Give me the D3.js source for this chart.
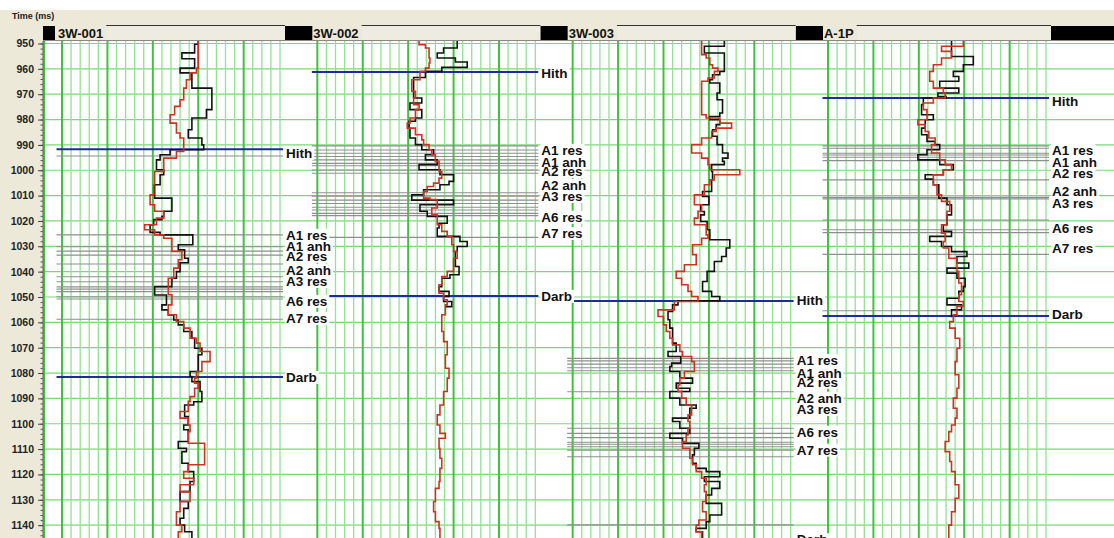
<!DOCTYPE html>
<html lang="en">
<head>
<meta charset="utf-8">
<title>Well correlation - Time (ms)</title>
<script src="https://d3js.org/d3.v7.min.js"></script>
<style>
  body { margin: 0; background: #fff; }
  svg { display: block; font-family: "Liberation Sans", Arial, sans-serif; }
</style>
</head>
<body>
<div id="chart"></div>
<script>
// wells shown as tracks, left to right
const wells = ["3W-001", "3W-002", "3W-003", "A-1P"];
const timeTicks = [950, 960, 970, 980, 990, 1000, 1010, 1020, 1030, 1040, 1050,
                   1060, 1070, 1080, 1090, 1100, 1110, 1120, 1130, 1140];

// log curves: [time ms, value in grid divisions 0-24], value holds down to the next time
const blackW1 = [[949,15.0],[950.3,14.6],[953.7,13.2],[956,14.6],[959.7,13.0],[961.6,14.3],[967.6,16.5],[976.1,15.9],[979.4,14.3],[984,13.9],[987.3,15.4],[990,15.6],[991.9,11.9],[993.9,10.8],[995.9,10.4],[999.8,11.2],[1001.8,10.8],[1005.7,10.2],[1011,12.1],[1016.2,11.2],[1018.2,11.0],[1019.5,10.1],[1021.5,9.7],[1024.5,10.8],[1025.5,14.4],[1029.4,12.8],[1031.4,13.5],[1034.7,13.9],[1036.5,13.0],[1040,12.6],[1042.6,12.1],[1045.9,10.2],[1049.2,11.5],[1053.1,11.0],[1055.1,11.7],[1057.1,12.3],[1059.1,12.8],[1061,13.4],[1063.6,14.3],[1066.3,14.6],[1070.2,15.4],[1072.8,15.0],[1079.4,14.1],[1081.4,14.3],[1083.4,15.2],[1087.3,15.4],[1091.3,14.5],[1092.6,13.5],[1097.2,13.9],[1100.5,13.4],[1102.4,13.9],[1107,12.8],[1109.7,13.7],[1111,13.2],[1115.6,13.9],[1118.9,14.5],[1122.8,14.1],[1126.8,13.0],[1130.7,13.9],[1133.4,13.4],[1137.3,13.0],[1140,13.5],[1142.6,14.3],[1146,14.3]];
const redW1 = [[949,15.0],[959.7,14.8],[961.6,14.1],[964.3,13.7],[967.6,13.4],[972.2,13.0],[974.8,12.4],[978.1,11.9],[981.4,12.6],[985.3,13.0],[987.3,13.4],[992.6,12.6],[995.2,11.2],[1000.5,10.2],[1005.7,10.1],[1009.7,9.7],[1013.6,10.2],[1016.2,11.2],[1018.9,10.4],[1021.5,9.1],[1023.5,10.2],[1025.5,11.2],[1026.8,12.1],[1032,13.2],[1035.3,12.8],[1038.6,12.3],[1042.6,11.7],[1049.1,12.1],[1053.1,11.7],[1057,12.6],[1059.7,13.4],[1062.3,14.1],[1066.3,14.8],[1068.2,15.2],[1071.5,16.3],[1075.5,15.4],[1079.4,14.8],[1082,14.6],[1084,15.0],[1086,14.6],[1089.3,14.1],[1091.2,13.9],[1095.2,13.0],[1097.8,13.9],[1100.5,14.1],[1103.1,13.9],[1107.7,15.7],[1116.2,13.9],[1118.9,13.4],[1121.5,14.5],[1124.1,13.0],[1126.8,14.1],[1130.7,13.0],[1134.7,12.6],[1140,13.2],[1142.6,12.8],[1146,12.8]];

const blackW2 = [[949,15.4],[951.8,13.9],[953.75,13.2],[955.7,15.2],[957.3,16.5],[959.4,13.7],[961,11.9],[963.4,10.6],[971.5,11.5],[973.5,10.2],[976.1,11.5],[979.4,10.8],[980.7,10.1],[983.4,10.2],[987.3,10.8],[989.9,11.5],[991.9,12.8],[993.9,11.9],[995.9,13.2],[997.8,11.2],[999.8,13.5],[1001.8,15.0],[1004.4,14.5],[1005.7,13.5],[1007.7,11.7],[1009.7,10.4],[1011.8,15.0],[1013.6,11.3],[1016.2,12.1],[1018.2,14.3],[1020.9,13.4],[1022.8,13.2],[1026.1,15.7],[1028.1,16.5],[1030.1,15.4],[1032.1,15.2],[1038,15.6],[1041.2,14.6],[1042.6,13.7],[1045.9,13.4],[1047.8,14.5],[1049.8,13.9],[1051.8,14.8],[1053.8,14.1]];
const redW2 = [[949,11.2],[950.5,11.9],[951.8,12.3],[955.7,12.4],[957.7,12.3],[959.7,11.9],[961,11.3],[964.3,10.4],[968.9,10.8],[971.5,10.6],[974.1,11.2],[976.1,10.8],[979.4,10.2],[981.4,9.9],[983.4,10.8],[986,11.5],[988,11.7],[989.9,12.3],[991.9,12.6],[993.9,13.0],[996.5,13.4],[1000.5,13.7],[1003.1,13.4],[1005.1,12.8],[1006.4,12.1],[1008.4,11.7],[1011,12.4],[1011.6,13.2],[1014.9,12.6],[1017.6,13.2],[1021.5,13.7],[1024.1,14.3],[1026.1,14.8],[1029.4,15.0],[1032,15.4],[1034.7,15.0],[1039.9,14.3],[1041.9,13.7],[1045.2,13.4],[1048.5,13.9],[1051.1,14.3],[1053.1,14.1],[1057,13.7],[1063.6,13.9],[1067.6,14.3],[1072.8,14.1],[1078.1,14.5],[1082,14.3],[1087.3,13.9],[1092.6,13.5],[1096.5,13.2],[1100.5,13.5],[1103.8,14.1],[1105.7,13.4],[1109.7,13.5],[1113.6,13.7],[1117.6,13.5],[1122.8,13.4],[1125.5,13.0],[1130.7,12.8],[1134.7,13.0],[1138.6,13.4],[1141.3,13.5],[1146,13.5]];

const blackW3 = [[949,16.7],[951.1,14.5],[953.75,16.7],[961,16.2],[962.3,15.4],[964.3,15.1],[965.6,16.2],[969.5,15.9],[972.2,16.5],[977.4,16.2],[978.8,15.1],[980.1,16.2],[982,15.8],[984,15.4],[986.6,15.9],[989.9,16.5],[993.2,17.1],[995.2,16.5],[996.5,16.7],[997.8,15.3],[1000.5,15.4],[1003.8,15.3],[1008.4,14.3],[1010.3,15.0],[1013.6,14.1],[1016.3,14.5],[1017.6,14.1],[1020.2,14.8],[1023.5,15.1],[1027.4,17.3],[1030.7,16.9],[1034,16.4],[1036,15.6],[1039.9,14.8],[1043.9,14.3],[1047.8,15.3],[1049.8,16.2],[1051.5,11.6],[1053.1,11.0],[1055.7,10.5],[1059,10.7],[1062.3,11.0],[1068.2,11.4],[1071.5,10.5],[1073.5,11.9],[1076.1,10.9],[1077.4,10.7],[1079.4,11.8],[1082,13.2],[1084,11.4],[1086,12.9],[1087.3,10.7],[1089.9,11.8],[1092.6,13.6],[1093.9,12.9],[1097.8,11.0],[1099.1,11.8],[1101.8,12.9],[1103.8,10.7],[1105.7,12.1],[1107.7,13.9],[1109.7,13.4],[1112.3,13.2],[1115.6,13.6],[1117.6,14.7],[1118.9,16.2],[1120.9,14.5],[1122.8,16.2],[1125.5,15.3],[1128.1,14.7],[1131.4,16.4],[1136,15.1],[1138.6,14.7],[1141.3,13.6],[1142.6,14.3],[1146,14.3]];
const redW3 = [[949,14.2],[954.4,14.7],[955.7,15.1],[958.4,15.4],[959.7,16.0],[961,15.6],[963.6,14.9],[964.9,14.2],[978.1,14.7],[979.4,16.2],[981.4,17.5],[983.4,15.8],[984.7,15.3],[987.3,14.2],[989.9,13.1],[993.2,14.2],[995.2,14.9],[997.8,15.1],[999.8,18.4],[1001.8,15.6],[1003.8,15.1],[1005.7,14.5],[1009.7,13.4],[1013.6,14.2],[1016.2,13.8],[1018.9,13.4],[1021.5,14.7],[1025.5,14.9],[1026.8,14.2],[1029.4,13.2],[1033.3,13.6],[1037.3,12.3],[1039.9,11.4],[1042.6,12.0],[1045.2,12.7],[1047.8,13.1],[1049.8,13.8],[1051.8,11.2],[1055.1,9.4],[1057.7,10.0],[1061,10.3],[1063.6,10.7],[1066.3,11.0],[1068.9,11.8],[1071.5,12.1],[1073.5,13.1],[1075.5,13.4],[1079.4,12.3],[1082,11.8],[1084.7,11.6],[1087.3,12.0],[1089.9,12.5],[1092.6,13.1],[1096.5,12.7],[1099.1,12.9],[1101.8,12.7],[1104.4,12.5],[1107,12.1],[1109.7,12.9],[1113.6,13.2],[1116.2,13.6],[1118.9,14.2],[1121.5,14.7],[1124.1,14.5],[1126.8,14.7],[1130.7,14.3],[1134.7,14.7],[1138,13.9],[1140,13.6],[1142.6,14.2],[1146,14.2]];

const blackW4 = [[949,13.6],[955.1,16.0],[958.4,14.9],[961,13.8],[963,14.4],[964.9,12.3],[967.6,14.4],[969.5,12.1],[970.9,13.0],[971.5,10.5],[974.1,10.3],[978.1,11.6],[980.1,10.7],[983.4,10.3],[986,10.9],[988.6,11.8],[989.9,12.3],[991.9,10.9],[993.9,9.9],[995.9,12.3],[997.8,13.8],[999.8,12.7],[1001.8,10.7],[1003.5,11.6],[1005.7,12.2],[1011,13.1],[1013.6,13.6],[1017.6,13.1],[1021.5,12.7],[1024.1,13.6],[1026.1,11.2],[1028.1,12.5],[1030.1,13.6],[1032.1,15.3],[1034,14.2],[1036.6,15.5],[1038.6,13.1],[1040.6,14.2],[1042.6,15.1],[1045.9,14.9],[1047.8,14.4],[1050.5,13.1],[1053.1,14.7],[1055.1,13.6],[1057.7,13.8]];
const redW4 = [[949,14.9],[951.1,12.5],[953.1,13.6],[955.7,12.5],[958.4,11.6],[961,11.2],[964.9,11.6],[967.6,12.7],[969.5,12.9],[971.5,11.6],[973.5,10.5],[976.1,10.9],[980.1,9.9],[982,10.7],[984.7,11.1],[987.3,11.8],[989.9,11.4],[993.2,12.3],[995.9,12.9],[997.8,13.6],[999.8,12.7],[1001.8,11.6],[1005.7,12.0],[1009.7,12.5],[1012.3,13.4],[1016.2,13.1],[1021.5,12.5],[1024.8,12.9],[1028.1,12.7],[1030.7,13.3],[1034.7,14.2],[1039.9,14.4],[1044.5,14.7],[1049.1,14.4],[1051.8,14.9],[1053.7,14.2],[1057,13.8],[1059.7,13.4],[1062.3,14.0],[1066.3,14.5],[1070.2,14.2],[1075.5,14.0],[1080.7,14.4],[1086,14.2],[1089.9,13.8],[1093.9,14.2],[1097.8,14.0],[1100.5,13.6],[1103.1,13.3],[1107,12.9],[1111,13.4],[1114.9,13.6],[1118.9,14.0],[1124.1,14.4],[1129.4,14.0],[1134.7,13.6],[1140,13.3],[1146,13.3]];

// formation tops: [name, time ms]; unnamed ones are the thin marker lines
const topsW1 = [["Hith",991.7],["",994.4],["A1 res",1025.5],["A1 anh",1030.2],["",1031.9],["A2 res",1033.5],["A2 anh",1037],["A3 res",1042],["",1044],["",1046],["",1046.9],["",1047.9],["A6 res",1049.9],["",1050.8],["A7 res",1058.8],["Darb",1081.6]];
const topsW2 = [["Hith",961.2],["A1 res",990.4],["",992],["",993.3],["A1 anh",994.6],["",995.9],["A2 res",997.3],["",998.2],["",999.9],["",1001.2],["A2 anh",1008.9],["A3 res",1010.2],["",1011.8],["",1013.1],["",1014.6],["A6 res",1015.7],["",1017],["",1017.9],["A7 res",1026.5],["Darb",1049.6]];
const topsW3 = [["Hith",1051.6],["A1 res",1074.2],["",1075.2],["A1 anh",1076.5],["",1077.9],["A2 res",1079.1],["A2 anh",1087.4],["A3 res",1101.8],["",1103.8],["",1105.5],["A6 res",1107.3],["",1108.1],["",1109.1],["",1110.4],["A7 res",1113],["",1139.9]];
const topsW4 = [["A1 res",990.4],["",991.3],["Hith",971.5],["",993.3],["A1 anh",994],["",994.9],["A2 res",996.2],["A2 anh",1003.8],["A3 res",1010.7],["",1011.3],["A6 res",1019.6],["",1023.5],["",1024.6],["A7 res",1033.2],["",1055.4],["Darb",1057.5]];

// where the top names are written: [text, time ms]
const labelsW1 = [["Hith",993.2],["A1 res",1025.5],["A1 anh",1029.9],["A2 res",1033.8],["A2 anh",1039.3],["A3 res",1043.7],["A6 res",1051.6],["A7 res",1058.3],["Darb",1081.6]];
const labelsW2 = [["Hith",961.6],["A1 res",992],["A1 anh",996.7],["A2 res",1000.3],["A2 anh",1005.8],["A3 res",1010.2],["A6 res",1018.4],["A7 res",1024.8],["Darb",1049.6]];
const labelsW3 = [["Hith",1051.2],["A1 res",1074.9],["A1 anh",1080],["A2 res",1083.5],["A2 anh",1089.8],["A3 res",1094.2],["A6 res",1103.2],["A7 res",1110.3],["Darb",1145.6]];
const labelsW4 = [["Hith",972.7],["A1 res",992],["A1 anh",996.7],["A2 res",1001],["A2 anh",1008.2],["A3 res",1012.9],["A6 res",1022.8],["A7 res",1030.7],["Darb",1056.7]];

const blacks = [blackW1, blackW2, blackW3, blackW4];
const reds = [redW1, redW2, redW3, redW4];
const tops = [topsW1, topsW2, topsW3, topsW4];
const labels = [labelsW1, labelsW2, labelsW3, labelsW4];

var width = 1114, height = 538;
var plotTop = 41, axisX = 43;
var trackLeft = 62, trackStep = 255.33, trackW = 218;

const svg = d3.select("#chart").append("svg")
    .attr("width", width)
    .attr("height", height);

// beige window frame + white plot area
svg.append("rect").attr("x", 0).attr("y", 10).attr("width", width).attr("height", height - 10).attr("fill", "#ece9d8");
svg.append("rect").attr("x", axisX).attr("y", plotTop).attr("width", width - axisX).attr("height", height - plotTop).attr("fill", "#fff");

svg.append("defs").append("clipPath").attr("id", "plotclip")
  .append("rect").attr("x", axisX).attr("y", plotTop).attr("width", width - axisX).attr("height", height - plotTop);

const y = d3.scaleLinear().domain([950, 1145]).range([43.5, 537.8]);

// one x scale per track, 24 grid divisions each
const xs = wells.map((w, i) => d3.scaleLinear()
    .domain([0, 24])
    .range([trackLeft + i * trackStep, trackLeft + i * trackStep + trackW]));

const plot = svg.append("g").attr("clip-path", "url(#plotclip)");

// horizontal grid every 10 ms
plot.append("g").selectAll("line")
  .data(timeTicks)
  .enter().append("line")
    .attr("x1", axisX).attr("x2", width)
    .attr("y1", d => y(d)).attr("y2", d => y(d))
    .attr("stroke", "#7ad87a").attr("stroke-width", 1.2);

// vertical grid per track, heavier every 5 divisions
xs.forEach(function(x) {
  plot.append("g").selectAll("line")
    .data(d3.range(0, 25))
    .enter().append("line")
      .attr("x1", d => x(d)).attr("x2", d => x(d))
      .attr("y1", plotTop).attr("y2", height)
      .attr("stroke", d => d % 5 == 0 ? "#3cc43c" : "#92e292")
      .attr("stroke-width", d => d % 5 == 0 ? 2 : 1.3);
});
plot.append("line").attr("x1", axisX + 1).attr("x2", axisX + 1).attr("y1", plotTop).attr("y2", height)
  .attr("stroke", "#3cc43c").attr("stroke-width", 2);

// formation top lines
const isBlue = d => d[0] == "Hith" || d[0] == "Darb";
tops.forEach(function(list, i) {
  const x = xs[i];
  plot.append("g").selectAll("line")
    .data(list.slice().sort((a, b) => isBlue(a) - isBlue(b)))
    .enter().append("line")
      .attr("x1", x(0) - 5.5).attr("x2", x(24) + 3)
      .attr("y1", d => y(d[1])).attr("y2", d => y(d[1]))
      .attr("stroke", d => isBlue(d) ? "#1e2c9a" : "#8e8e8e")
      .attr("stroke-width", d => isBlue(d) ? 2 : 1.1);
});

// log curves, black first then red on top
const stepLine = x => d3.line()
    .x(d => x(d[1]))
    .y(d => y(d[0]))
    .curve(d3.curveStepBefore);

wells.forEach(function(w, i) {
  plot.append("path").datum(blacks[i])
    .attr("d", stepLine(xs[i]))
    .attr("fill", "none").attr("stroke", "#111").attr("stroke-width", 1.6);
  plot.append("path").datum(reds[i])
    .attr("d", stepLine(xs[i]))
    .attr("fill", "none").attr("stroke", "#cc3322").attr("stroke-width", 1.6);
});

// top names: white boxes first, then all texts above them
const boxLayer = plot.append("g");
const textLayer = plot.append("g");
labels.forEach(function(list, i) {
  const x = xs[i];
  list.forEach(function(d) {
    const t = textLayer.append("text")
      .attr("x", x(24) + 6)
      .attr("y", y(d[1]))
      .attr("dy", "0.36em")
      .style("font-size", "13.5px")
      .style("font-weight", "bold")
      .attr("fill", "#111")
      .text(d[0]);
    const b = t.node().getBBox();
    boxLayer.append("rect")
      .attr("x", b.x - 1).attr("y", b.y + 1)
      .attr("width", b.width + 3).attr("height", b.height - 2)
      .attr("fill", "#fff");
  });
});

// time axis on the left
svg.append("g")
  .attr("transform", `translate(${axisX}, 0)`)
  .call(d3.axisLeft(y).tickValues(d3.range(950, 1146, 2)).tickSize(2.5).tickSizeOuter(0).tickFormat(""))
  .call(g => g.select(".domain").remove())
  .selectAll("line").attr("stroke", "#555");

svg.append("g")
  .attr("transform", `translate(${axisX}, 0)`)
  .call(d3.axisLeft(y).tickValues(timeTicks).tickSize(5).tickPadding(4).tickSizeOuter(0).tickFormat(d3.format("d")))
  .call(g => g.select(".domain").attr("stroke", "#666").attr("d", `M0,${plotTop}V${height}`))
  .call(g => g.selectAll("line").attr("stroke", "#444"))
  .selectAll("text")
    .style("font-size", "10.5px")
    .style("font-weight", "bold")
    .attr("fill", "#222");

svg.append("text")
  .attr("x", 12).attr("y", 19)
  .style("font-size", "9px").style("font-weight", "bold")
  .attr("fill", "#222")
  .text("Time (ms)");

// track headers: black blocks, well name, scale bar
const header = svg.append("g");
const blocks = [[axisX, xs[0](0) - 7]];
xs.forEach(function(x, i) {
  const end = i < xs.length - 1 ? xs[i + 1](0) - 5 : width;
  blocks.push([x(24) + 5, end]);
});
header.selectAll("rect.blk")
  .data(blocks)
  .enter().append("rect")
    .attr("class", "blk")
    .attr("x", d => d[0]).attr("y", 26)
    .attr("width", d => d[1] - d[0]).attr("height", 14)
    .attr("fill", "#000");

wells.forEach(function(w, i) {
  const x = xs[i];
  const t = header.append("text")
    .attr("x", x(0) - 4).attr("y", 38)
    .style("font-size", "13px").style("font-weight", "bold")
    .attr("fill", "#111")
    .text(w);
  const tw = t.node().getComputedTextLength();
  const bx = x(0) - 4 + tw + 3;
  header.append("rect")
    .attr("x", bx).attr("y", 25.5)
    .attr("width", x(24) + 5 - bx).attr("height", 14.5)
    .attr("fill", "#eeebe1");
  header.append("line")
    .attr("x1", bx).attr("x2", x(24) + 5)
    .attr("y1", 25.5).attr("y2", 25.5)
    .attr("stroke", "#333").attr("stroke-width", 1);
});

svg.append("line")
  .attr("x1", axisX).attr("x2", width)
  .attr("y1", plotTop - 0.5).attr("y2", plotTop - 0.5)
  .attr("stroke", "#888");
</script>
</body>
</html>
